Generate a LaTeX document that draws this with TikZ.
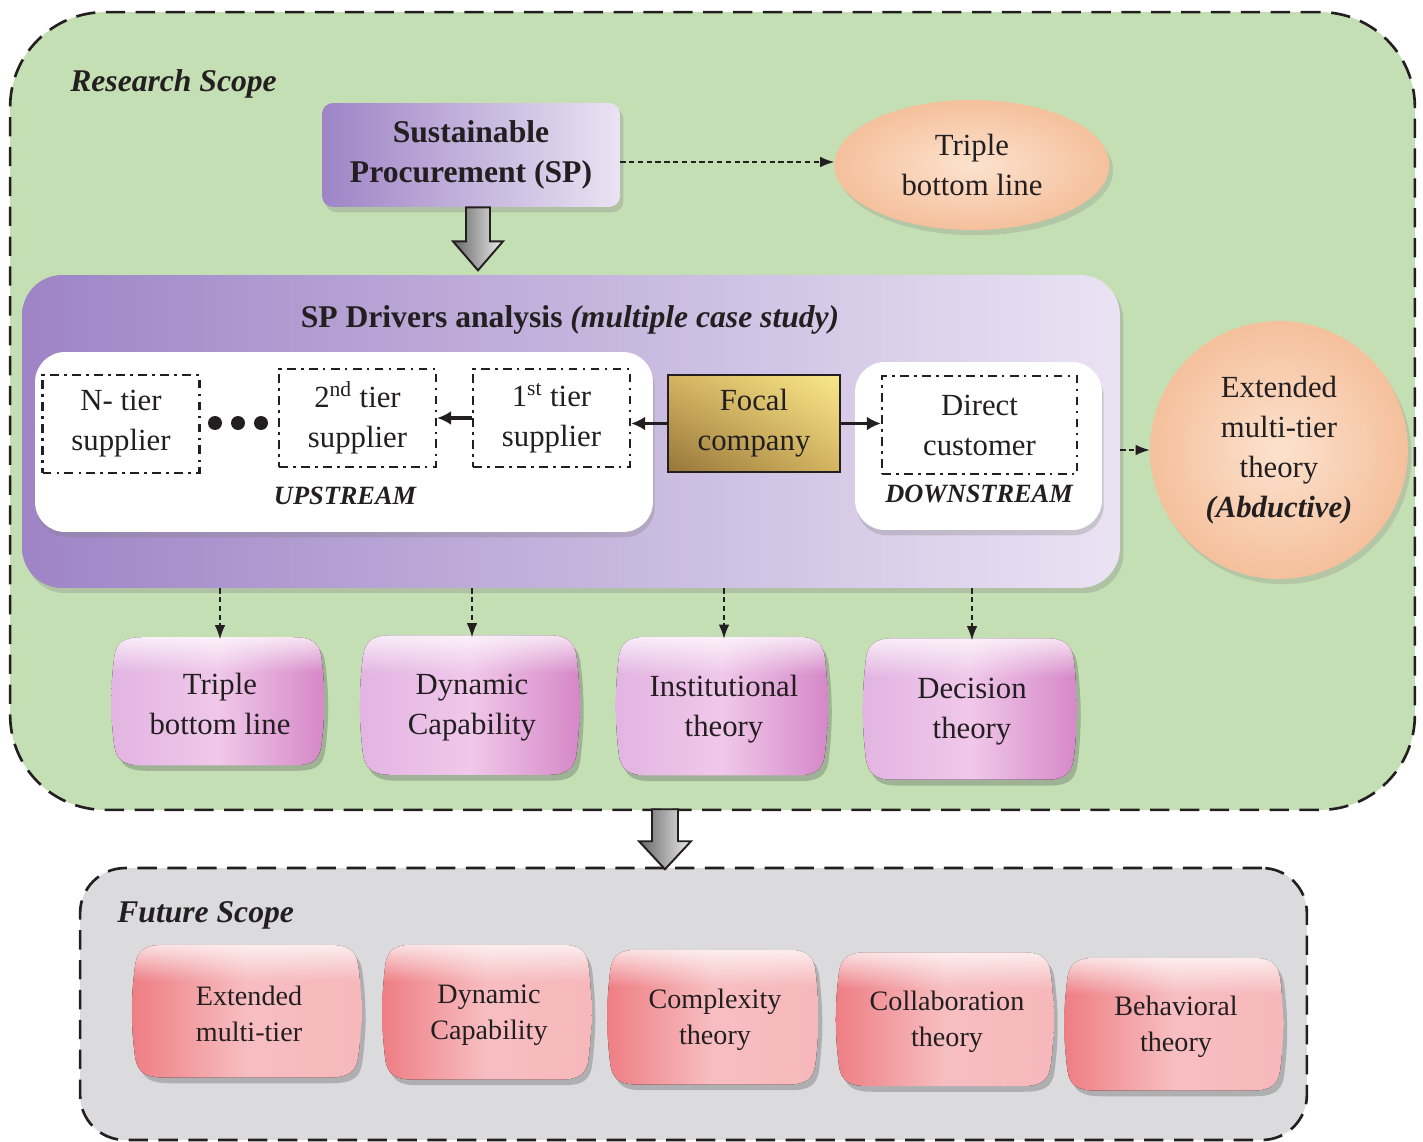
\documentclass[tikz,border=0pt]{standalone}
\usepackage{fontspec}
\setmainfont{Liberation Serif}
\usepackage{xcolor}
\usepackage{tikz}
\usetikzlibrary{shapes.geometric,shadows,shadings,fadings,calc,arrows.meta}

\definecolor{scopegreen}{RGB}{197,223,181}
\definecolor{futuregray}{RGB}{219,219,221}
\definecolor{peach}{RGB}{245,192,156}
\definecolor{peachlight}{RGB}{252,226,206}
\definecolor{lilacdark}{RGB}{158,132,198}
\definecolor{lilaclight}{RGB}{234,227,243}
\definecolor{orchid}{RGB}{214,136,200}
\definecolor{orchidlight}{RGB}{240,200,234}
\definecolor{orchidleft}{RGB}{226,180,226}
\definecolor{coral}{RGB}{238,126,132}
\definecolor{corallight}{RGB}{247,190,193}
\definecolor{golddark}{RGB}{150,118,58}
\definecolor{goldlight}{RGB}{250,232,140}
\definecolor{goldmid}{RGB}{212,180,96}
\definecolor{inktext}{RGB}{35,31,32}

\newcommand{\mainsize}{\fontsize{17.5}{22.8}\selectfont}
\newcommand{\titlesize}{\fontsize{18}{22.8}\selectfont}
\newcommand{\smallsize}{\fontsize{16}{20.5}\selectfont}
\newcommand{\labelsize}{\fontsize{15}{18}\selectfont}

\newcommand{\barrelpath}[1]{%
  \path[#1] (-0.7,1) -- (0.7,1) .. controls (0.88,1) and (0.95,0.92) .. (0.97,0.7)
    .. controls (0.99,0.45) and (1,0.2) .. (1,0) .. controls (1,-0.2) and (0.99,-0.45) .. (0.97,-0.7)
    .. controls (0.95,-0.92) and (0.88,-1) .. (0.7,-1) -- (-0.7,-1)
    .. controls (-0.88,-1) and (-0.95,-0.92) .. (-0.97,-0.7)
    .. controls (-0.99,-0.45) and (-1,-0.2) .. (-1,0) .. controls (-1,0.2) and (-0.99,0.45) .. (-0.97,0.7)
    .. controls (-0.95,0.92) and (-0.88,1) .. (-0.7,1) -- cycle;}

% #1 tone, #2 name, #3 #4 centre, #5 #6 size (px), #7 text
\newcommand{\barrelnode}[7]{%
  \begin{scope}[shift={(#3,#4)}, x={(#5*0.01cm,0pt)}, y={(0pt,#6*0.01cm)}]
    \barrelpath{fill=gray!60!black, opacity=0.3, shift={(0.015,-0.04)}, xscale=0.97, yscale=0.95}
    \begin{scope}[shift={(-0.02,0.04)}, xscale=0.97, yscale=0.95]
      \barrelpath{clip}
      \fill[#1tone] (-1,-1) rectangle (1,1);
      \fill[white, path fading=south, opacity=0.75] (-1,0.45) rectangle (1,1);
    \end{scope}
  \end{scope}
  \node[#1barrel, minimum width=#5*0.02cm, minimum height=#6*0.02cm] (#2) at (#3,#4) {#7};}

\tikzset{
  scopebox/.style={draw=inktext, line width=1.5pt, dash pattern=on 11pt off 6pt, inner sep=0pt},
  scopelabel/.style={font=\titlesize\bfseries\itshape, text=inktext, inner sep=0pt},
  spbox/.style={rounded corners=0.22cm, minimum width=5.96cm, minimum height=2.08cm,
    left color=lilacdark, right color=lilaclight, align=center, font=\titlesize\bfseries,
    text=inktext, drop shadow={opacity=0.3, shadow xshift=2pt, shadow yshift=-3pt}},
  driverbox/.style={rounded corners=0.8cm, minimum width=21.96cm, minimum height=6.26cm,
    left color=lilacdark, right color=lilaclight,
    drop shadow={opacity=0.3, shadow xshift=2pt, shadow yshift=-3pt}},
  streambox/.style={rounded corners=0.6cm, fill=white,
    drop shadow={opacity=0.3, shadow xshift=1pt, shadow yshift=-3pt}},
  tierbox/.style={draw=inktext, line width=1.3pt, dash pattern=on 5pt off 3pt on 1.5pt off 3pt,
    fill=white, minimum width=3.14cm, minimum height=1.96cm, align=center, font=\mainsize, text=inktext},
  focalbox/.style={draw=inktext, line width=1.5pt, minimum width=3.44cm, minimum height=1.94cm,
    lower left=golddark, upper right=goldlight, upper left=goldmid, lower right=goldmid,
    align=center, font=\mainsize, text=inktext},
  tierdot/.style={circle, fill=inktext, minimum size=0.28cm, inner sep=0pt},
  streamlabel/.style={font=\labelsize\bfseries\itshape, text=inktext, inner sep=0pt},
  ovalnode/.style={inner color=peachlight, outer color=peach, align=center, font=\mainsize,
    text=inktext, inner sep=0pt, drop shadow={opacity=0.25, shadow xshift=2pt, shadow yshift=-3pt}},
  pinktone/.style={left color=orchidleft, right color=orchid, middle color=orchidlight},
  redtone/.style={left color=coral, right color=corallight!90!coral, middle color=corallight},
  pinkbarrel/.style={inner sep=0pt, align=center, font=\mainsize, text=inktext},
  redbarrel/.style={inner sep=0pt, align=center, font=\smallsize, text=inktext},
  dasharrow/.style={draw=inktext, line width=0.7pt, dash pattern=on 3pt off 2pt,
    -{Latex[length=8pt,width=6pt]}},
  flowarrow/.style={draw=inktext, line width=1.8pt, -{Latex[length=8pt,width=8pt]}},
  blockarrow/.style={draw=inktext, line width=1.1pt, left color=gray!80!black, right color=gray!15}
}

\begin{document}
\begin{tikzpicture}[x=0.02cm,y=-0.02cm]
\useasboundingbox (0,0) rectangle (1423,1142);

\node[scopebox, fill=scopegreen, minimum width=28.1cm, minimum height=15.96cm, rounded corners=1.9cm] (research) at (712.5,411) {};
\node[scopelabel, anchor=base west] (researchlbl) at (70,92) {Research Scope};

\node[spbox] (sp) at (471,155) {Sustainable\\Procurement (SP)};
\node[ovalnode, ellipse, minimum width=5.5cm, minimum height=2.6cm] (tbl) at (972,165) {Triple\\bottom line};
\draw[dasharrow] ($(sp.east)+(0,7)$) -- ($(sp.east -| tbl.west)+(0,7)$);

\node[driverbox] (drivers) at (571,431.5) {};
\node[font=\titlesize\bfseries, text=inktext, inner sep=0pt] (driverstitle) at (570,320) {SP Drivers analysis \textit{(multiple case study)}};
\filldraw[blockarrow] ($(sp.south)+(-5,0)$) -- ++(24,0) -- ++(0,34) -- ++(13,0) -- ++(-25,29) -- ++(-25,-29) -- ++(13,0) -- cycle;

\node[streambox, minimum width=12.36cm, minimum height=3.6cm] (upstream) at (344,442) {};
\node[streambox, minimum width=4.94cm, minimum height=3.36cm] (downstream) at (978.5,446) {};
\node[tierbox] (ntier) at (121,424) {N- tier\\supplier};
\node[tierbox] (tier2) at (357.5,418) {2\textsuperscript{nd} tier\\supplier};
\node[tierbox] (tier1) at (551.5,418) {1\textsuperscript{st} tier\\supplier};
\node[tierbox, minimum width=3.9cm] (customer) at (979.5,425) {Direct\\customer};
\node[focalbox] (focal) at (754,423.5) {Focal\\company};
\foreach \i in {0,1,2}
  \node[tierdot] (dot\i) at (215+\i*23,423) {};
\node[streamlabel] (uplbl) at (345,496) {UPSTREAM};
\node[streamlabel] (downlbl) at (979,494) {DOWNSTREAM};
\draw[flowarrow] (focal.west) -- (focal.west -| tier1.east);
\draw[flowarrow] (tier1.west) -- (tier2.east);
\draw[flowarrow] (focal.east) -- (focal.east -| customer.west);

\node[ovalnode, circle, minimum size=5.16cm] (ext) at (1279,450) {Extended\\multi-tier\\theory\\\textbf{\textit{(Abductive)}}};
\draw[dasharrow] (ext.west -| drivers.east) -- (ext.west);

\barrelnode{pink}{tbltheory}{220}{704}{220}{135}{Triple\\bottom line}
\barrelnode{pink}{dyntheory}{472}{708}{227}{147}{Dynamic\\Capability}
\barrelnode{pink}{insttheory}{724}{709}{219}{146}{Institutional\\theory}
\barrelnode{pink}{dectheory}{972}{712}{221}{149}{Decision\\theory}
\foreach \t in {tbltheory,dyntheory,insttheory,dectheory}
  \draw[dasharrow] (\t |- drivers.south) -- ($(\t.north)+(0,3)$);

\node[scopebox, fill=futuregray, minimum width=24.54cm, minimum height=5.44cm, rounded corners=0.9cm] (future) at (693.5,1004) {};
\node[scopelabel, anchor=base west] (futurelbl) at (117,922) {Future Scope};
\filldraw[blockarrow] ($(research.south)+(-60.5,-2)$) -- ++(26,0) -- ++(0,32) -- ++(13,0) -- ++(-26,28) -- ++(-26,-28) -- ++(13,0) -- cycle;

\barrelnode{red}{extfuture}{249}{1014}{237}{140}{Extended\\multi-tier}
\barrelnode{red}{dynfuture}{489}{1015}{216}{142}{Dynamic\\Capability}
\barrelnode{red}{cplxfuture}{715}{1020}{218}{142}{Complexity\\theory}
\barrelnode{red}{collfuture}{947}{1022}{225}{141}{Collaboration\\theory}
\barrelnode{red}{behfuture}{1176}{1027}{226}{140}{Behavioral\\theory}
\end{tikzpicture}
\end{document}
